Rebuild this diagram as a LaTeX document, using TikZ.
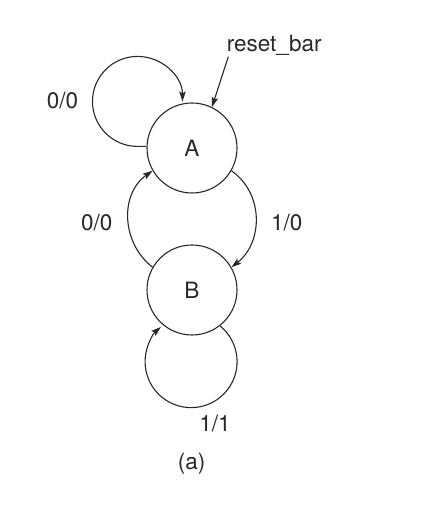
\documentclass[tikz,border=0pt]{standalone}
\usepackage{fontspec}
\setmainfont{TeX Gyre Heros}
\usetikzlibrary{arrows.meta}
\definecolor{ink}{RGB}{40,40,40}
\begin{document}
\begin{tikzpicture}[x=1pt,y=1pt,
  state/.style={circle,draw=ink,line width=1.1pt,minimum size=90pt,inner sep=0pt,font=\fontsize{22.5}{27}\selectfont,text=ink},
  lbl/.style={inner sep=0pt,font=\fontsize{22.5}{27}\selectfont,text=ink},
  edge/.style={draw=ink,line width=1.1pt,-{Stealth[length=10pt,width=6.5pt,inset=2pt]}}]
\useasboundingbox (0,0) rectangle (422,512);
\node[state] (A) at (192,364) {A};
\node[state] (B) at (192,222) {B};
\node[lbl,anchor=base west] (R) at (226.7,460.3) {reset\_bar};
\coordinate (Rs) at (228.3,455.3);
\node[lbl] (L1) at (62.5,411) {0/0};
\node[lbl] (L2) at (96.7,289.5) {0/0};
\node[lbl] (L3) at (286.7,289.5) {1/0};
\node[lbl] (L4) at (215,88) {1/1};
\node[lbl] (cap) at (191.7,48) {(a)};
% reset arrow
\draw[edge] (Rs) -- (A.64);
% self loop A
\draw[edge] (A.178) -- ++(-9,0) arc[start angle=270,end angle=0,radius=45];
% A -> B
\draw[edge] (A.-30) .. controls +(-35:40) and +(38:40) .. (B.30);
% B -> A
\draw[edge] (B.150) .. controls +(142:40) and +(-145:40) .. (A.210);
% self loop B
\draw[edge] (B.-52) arc[start angle=51,end angle=-229,radius=46];
\end{tikzpicture}
\end{document}
